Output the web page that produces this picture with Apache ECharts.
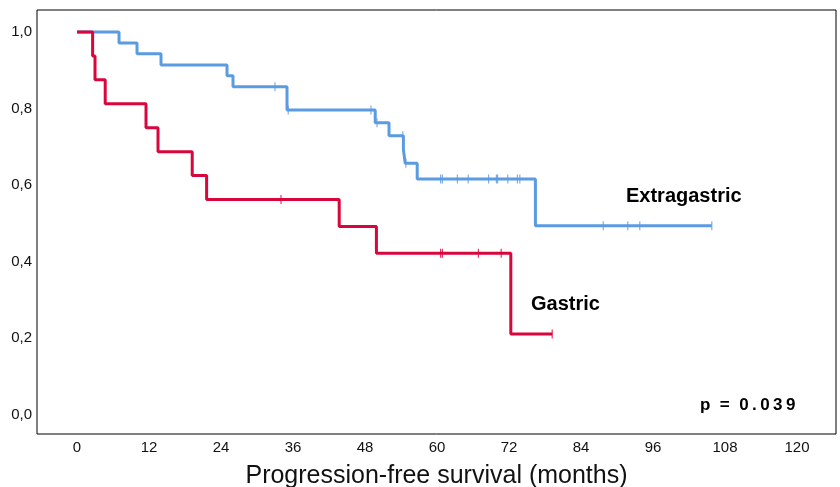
<!DOCTYPE html>
<html><head><meta charset="utf-8">
<script src="https://cdn.jsdelivr.net/npm/echarts@6/dist/echarts.min.js"></script>
<style>html,body{margin:0;padding:0;background:#fff}#c{width:840px;height:487px}</style>
</head><body><div id="c"></div>
<script>
// Extragastric (blue) KM step data: [month, survival]
const extraTimes = [0, 7, 10, 14, 25, 26, 35, 49.7, 52, 54.4, 54.7, 56.7, 76.4, 105.8];
const extraSurv  = [1.0, 0.971, 0.943, 0.914, 0.886, 0.857, 0.796, 0.763, 0.729, 0.692, 0.657, 0.616, 0.494, 0.494];
const extraCensor = [33, 35.2, 49, 50, 54.3, 54.8, 60.6, 60.9, 63.4, 65.2, 68.6, 69.9, 70.1, 71.8, 73.4, 73.8, 87.7, 91.8, 93.8, 105.8];
// Gastric (red)
const gastTimes = [0, 2.6, 3.0, 4.7, 11.5, 13.5, 19.2, 21.6, 43.7, 49.9, 72.3, 79.2];
const gastSurv  = [1.0, 0.9375, 0.875, 0.8125, 0.75, 0.6875, 0.625, 0.5625, 0.492, 0.422, 0.211, 0.211];
const gastCensor = [34, 60.6, 60.9, 66.9, 70.7, 79.2];
const xTicks = [0, 12, 24, 36, 48, 60, 72, 84, 96, 108, 120];
const yTicks = [0, 0.2, 0.4, 0.6, 0.8, 1.0];

function levelAt(times, surv, t) {
  let v = surv[0];
  for (let i = 0; i < times.length; i++) { if (times[i] <= t) v = surv[i]; }
  return v;
}
const pts = (ts, ss) => ts.map((t, i) => [t, ss[i]]);
const cens = (c, ts, ss) => c.map(t => [t, levelAt(ts, ss, t)]);

const BLUE = '#5b9be2', RED = '#d8063c';
const FONT = 'Liberation Sans, Arial';
const chart = echarts.init(document.getElementById('c'));
chart.setOption({
  animation: false,
  grid: { left: 37, right: 4, top: 10, bottom: 53, containLabel: false, outerBoundsMode: 'none',
    show: true, borderColor: '#000', borderWidth: 1, backgroundColor: 'transparent' },
  xAxis: {
    type: 'value', min: -6.67, max: 126.5,
    axisLine: { show: false }, axisTick: { show: false }, splitLine: { show: false },
    axisLabel: { customValues: xTicks, fontFamily: FONT, fontSize: 15, color: '#111', margin: 6 },
    name: 'Progression-free survival (months)', nameLocation: 'middle', nameGap: 30,
    nameTextStyle: { fontFamily: FONT, fontSize: 25, color: '#111' }
  },
  yAxis: {
    type: 'value', min: -0.05, max: 1.0574,
    axisLine: { show: false }, axisTick: { show: false }, splitLine: { show: false },
    axisLabel: { customValues: yTicks, fontFamily: FONT, fontSize: 15, color: '#111', margin: 5,
      formatter: v => v.toFixed(1).replace('.', ',') }
  },
  series: [
    { type: 'line', step: 'end', data: pts(extraTimes, extraSurv), showSymbol: false, lineStyle: { color: BLUE, width: 3 }, z: 2 },
    { type: 'scatter', data: cens(extraCensor, extraTimes, extraSurv), symbol: 'rect', symbolSize: [1.2, 9], itemStyle: { color: BLUE }, z: 3 },
    { type: 'line', step: 'end', data: pts(gastTimes, gastSurv), showSymbol: false, lineStyle: { color: RED, width: 3 }, z: 4 },
    { type: 'scatter', data: cens(gastCensor, gastTimes, gastSurv), symbol: 'rect', symbolSize: [1.2, 9], itemStyle: { color: RED }, z: 5 }
  ],
  graphic: [
    { type: 'text', left: 626, top: 186, style: { text: 'Extragastric', font: 'bold 20px ' + FONT, fill: '#000' } },
    { type: 'text', left: 531, top: 294, style: { text: 'Gastric', font: 'bold 20px ' + FONT, fill: '#000' } },
    { type: 'text', left: 700, top: 397, style: { text: 'p  =  0\u2009.\u20090\u20093\u20099', font: 'bold 17px ' + FONT, fill: '#000' } }
  ]
});
</script></body></html>
